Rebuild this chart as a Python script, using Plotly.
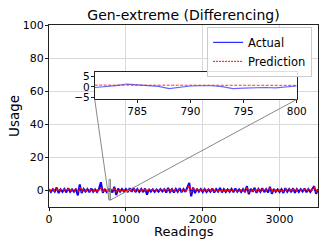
import plotly.graph_objects as go

# ---------------- data ----------------
readings = [25 * i for i in range(141)]
actual = [
    0.6, -0.9, 0.8, -0.7, 1.8, -1.6, 0.7, -0.8, 0.9, -1.2,
    1.4, -0.9, 0.7, -0.8, 1.0, -3.0, 3.6, -1.5, 0.9, -0.7,
    0.8, -1.1, 1.2, -0.8, 0.7, -0.9, 0.8, 5.0, -1.4, 0.9,
    -1.0, 0.5, 0.3, -1.2, 2.2, -2.8, 1.1, -0.8, 0.9, -0.8,
    0.8, -1.0, 1.3, -0.8, 1.5, -1.0, 0.8, -0.9, 0.9, -1.0,
    1.2, -2.6, 0.8, -0.7, 0.7, -0.8, 0.6, -0.7, 0.8, -0.6,
    0.7, -1.3, 1.5, -0.9, 0.8, -1.2, 0.9, -0.8, 1.4, -1.1,
    0.8, -0.9, 1.6, 4.5, -3.5, 1.8, -1.6, 1.0, -0.8, 0.9,
    -1.0, 0.8, -0.9, 0.7, -0.8, 1.2, -1.3, 0.8, -0.7, 1.5,
    -1.2, 0.8, -0.9, 0.7, -0.8, 0.9, -1.1, 1.2, -0.8, 0.7,
    -0.9, 0.8, -1.0, 2.6, -2.3, 1.0, -0.8, 1.6, -1.4, 0.9,
    -0.8, 1.3, -1.0, 0.8, -1.2, 2.2, -2.0, 0.9, -0.8, 0.7,
    -0.9, 0.8, -1.5, 1.4, -0.8, 0.9, -1.0, 1.3, -1.4, 0.8,
    -0.9, 0.8, -0.7, 1.2, -1.1, 0.8, -0.9, 0.7, 2.6, -2.0,
    0.8,
]
prediction = [
    0.6, -0.2, 0.7, -0.1, 0.9, -0.4, 0.6, -0.1, 0.5, -0.3,
    0.8, -0.2, 0.6, -0.1, 0.7, -0.6, 1.9, -0.3, 0.6, -0.1,
    0.5, -0.2, 0.7, -0.1, 0.6, -0.2, 0.5, 1.5, -0.4, 0.6,
    -0.2, 0.7, 0.6, -0.3, 1.0, -0.8, 0.7, -0.1, 0.6, -0.2,
    0.5, -0.2, 0.8, -0.1, 0.9, -0.3, 0.6, -0.2, 0.5, -0.2,
    0.6, -0.7, 0.5, -0.1, 0.5, -0.2, 0.4, -0.1, 0.5, -0.1,
    0.5, -0.3, 0.8, -0.2, 0.6, -0.3, 0.5, -0.1, 0.7, -0.3,
    0.6, -0.2, 0.9, 3.0, -1.2, 1.1, -0.5, 0.6, -0.2, 0.5,
    -0.2, 0.6, -0.1, 0.5, -0.2, 0.7, -0.4, 0.6, -0.1, 0.8,
    -0.3, 0.5, -0.2, 0.6, -0.1, 0.5, -0.3, 0.7, -0.2, 0.5,
    -0.2, 0.6, -0.3, 1.4, -0.7, 0.6, -0.1, 0.9, -0.4, 0.6,
    -0.2, 0.7, -0.3, 0.5, -0.3, 1.2, -0.6, 0.6, -0.2, 0.5,
    -0.2, 0.6, -0.4, 0.8, -0.1, 0.6, -0.3, 0.7, -0.4, 0.5,
    -0.2, 0.6, -0.1, 0.7, -0.3, 0.5, -0.2, 0.6, 1.8, -0.6,
    0.6,
]

zoom_readings = list(range(781, 801))
zoom_actual = [-0.3, 0.0, 0.6, 1.3, 1.0, 0.8, 0.2, -0.8, -0.2, 0.4,
               0.5, 0.5, 0.1, -0.8, -0.6, -0.3, -0.3, -0.5, 0.0, 0.4]
zoom_prediction = [0.8, 0.8, 0.9, 0.9, 0.9, 0.9, 0.8, 0.8, 0.8, 0.8,
                   0.8, 0.8, 0.8, 0.8, 0.7, 0.7, 0.7, 0.7, 0.7, 0.7]

x_ticks = [0, 1000, 2000, 3000]
y_ticks = [0, 20, 40, 60, 80, 100]
zoom_x_ticks = [785, 790, 795, 800]
zoom_y_ticks = [-5, 0, 5]

x_range = [0, 3500]
y_range = [-10, 100]
zoom_x_range = [781, 800]
zoom_y_range = [-5.8, 6.7]

# merge the fine inset samples into the full series
pairs_a = sorted(list(zip(readings, actual)) + list(zip(zoom_readings, zoom_actual)))
pairs_p = sorted(list(zip(readings, prediction)) + list(zip(zoom_readings, zoom_prediction)))

FONT = "DejaVu Sans"
W, H = 326, 244
ML, MR, MT, MB = 49, 8, 25, 37

fig = go.Figure()

fig.add_trace(go.Scatter(x=[p[0] for p in pairs_a], y=[p[1] for p in pairs_a],
                         mode="lines", name="Actual", showlegend=False,
                         line=dict(color="#0000ff", width=2),
                         xaxis="x", yaxis="y"))
fig.add_trace(go.Scatter(x=[p[0] for p in pairs_p], y=[p[1] for p in pairs_p],
                         mode="lines", name="Prediction", showlegend=False,
                         line=dict(color="#ff0000", width=1.8, dash="3px,1.5px"),
                         xaxis="x", yaxis="y"))

fig.add_trace(go.Scatter(x=zoom_readings, y=zoom_actual, mode="lines",
                         line=dict(color="rgba(0,0,255,0.6)", width=1.2),
                         showlegend=False, xaxis="x2", yaxis="y2"))
fig.add_trace(go.Scatter(x=zoom_readings, y=zoom_prediction, mode="lines",
                         line=dict(color="rgba(255,0,0,0.8)", width=1, dash="3px,1.5px"),
                         showlegend=False, xaxis="x2", yaxis="y2"))

# legend entries (thin lines, as in the reference legend)
fig.add_trace(go.Scatter(x=[None], y=[None], mode="lines", name="Actual",
                         line=dict(color="#0000ff", width=1), xaxis="x", yaxis="y"))
fig.add_trace(go.Scatter(x=[None], y=[None], mode="lines", name="Prediction",
                         line=dict(color="#ff0000", width=1, dash="2px,1px"),
                         xaxis="x", yaxis="y"))

inset_x = [0.170, 0.921]
inset_y = [0.591, 0.740]

def px(v):
    return (v - x_range[0]) / (x_range[1] - x_range[0])

def py(v):
    return (v - y_range[0]) / (y_range[1] - y_range[0])

shapes = [
    dict(type="rect", xref="x", yref="y", x0=zoom_x_range[0], x1=zoom_x_range[1],
         y0=zoom_y_range[0], y1=zoom_y_range[1], line=dict(color="#888888", width=1)),
    dict(type="line", xref="paper", yref="paper", x0=inset_x[0], y0=inset_y[0],
         x1=px(zoom_x_range[0]), y1=py(zoom_y_range[0]), line=dict(color="#888888", width=1)),
    dict(type="line", xref="paper", yref="paper", x0=inset_x[1], y0=inset_y[0],
         x1=px(zoom_x_range[1]), y1=py(zoom_y_range[0]), line=dict(color="#888888", width=1)),
]

axis_common = dict(showline=True, mirror=True, linecolor="#222222", linewidth=1,
                   ticks="outside", ticklen=3, tickcolor="#222222", zeroline=False,
                   automargin=False, ticklabelstandoff=-1)

plot_w = W - ML - MR
plot_h = H - MT - MB

annotations = [
    dict(text="Readings", xref="paper", yref="paper", x=0.5, y=-(231 - (H - MB)) / plot_h,
         xanchor="center", yanchor="middle", showarrow=False, font=dict(size=13)),
    dict(text="Usage", xref="paper", yref="paper", x=-(ML - 14) / plot_w, y=0.5,
         xanchor="center", yanchor="middle", textangle=-90, showarrow=False,
         font=dict(size=13.5)),
]

fig.update_layout(
    width=W, height=H,
    margin=dict(l=ML, r=MR, t=MT, b=MB),
    paper_bgcolor="white", plot_bgcolor="white",
    font=dict(family=FONT, color="black"),
    title=dict(text="Gen-extreme (Differencing)", x=0.5, xref="paper",
               y=1 - 15 / H, yanchor="middle", font=dict(size=14, family=FONT)),
    xaxis=dict(range=x_range, tickvals=x_ticks, showgrid=True, gridcolor="#d9d9d9",
               gridwidth=1, tickfont=dict(size=11), domain=[0, 1], **axis_common),
    yaxis=dict(range=y_range, tickvals=y_ticks, showgrid=True, gridcolor="#d9d9d9",
               gridwidth=1, tickfont=dict(size=11), domain=[0, 1], **axis_common),
    xaxis2=dict(range=zoom_x_range, tickvals=zoom_x_ticks, showgrid=False,
                tickfont=dict(size=10.5), domain=inset_x, anchor="y2", **axis_common),
    yaxis2=dict(range=zoom_y_range, tickvals=zoom_y_ticks, showgrid=False,
                tickfont=dict(size=10.5), domain=inset_y, anchor="x2", **axis_common),
    legend=dict(x=0.978, y=0.99, xanchor="right", yanchor="top",
                bgcolor="rgba(255,255,255,0.85)", bordercolor="#cccccc", borderwidth=1,
                font=dict(size=11.5), tracegroupgap=0),
    shapes=shapes,
    annotations=annotations,
    showlegend=True,
)

fig.write_html("out.html", config={"displayModeBar": False, "staticPlot": True},
               post_script="document.body.style.margin='0';document.body.style.overflow='hidden';")
